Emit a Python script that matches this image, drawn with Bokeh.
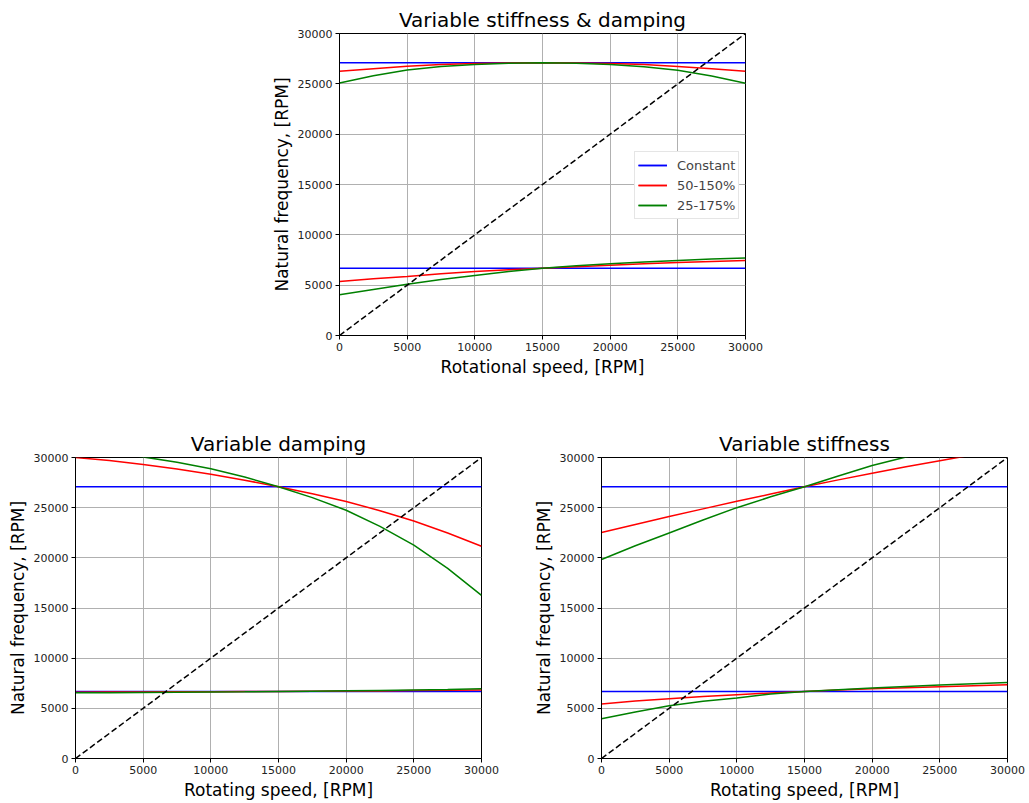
from bokeh.plotting import figure
from bokeh.models import Range1d, FixedTicker, Spacer
from bokeh.layouts import column, row
from bokeh.embed import file_html
from bokeh.resources import INLINE

# ---------------- data ----------------
speed = [0, 2500, 5000, 7500, 10000, 12500, 15000, 17500, 20000, 22500, 25000, 27500, 30000]
ticks = [0, 5000, 10000, 15000, 20000, 25000, 30000]
diag = [0, 30000]

const_upper = [27085] * 13
const_lower = [6685] * 13

# Variable stiffness & damping
sd_red_upper = [26250, 26500, 26750, 26920, 27020, 27070, 27085, 27070, 27020, 26920, 26720, 26500, 26260]
sd_green_upper = [25080, 25800, 26380, 26720, 26920, 27040, 27085, 27040, 26920, 26700, 26350, 25780, 25060]
sd_red_lower = [5360, 5630, 5860, 6130, 6360, 6530, 6685, 6840, 6985, 7120, 7250, 7360, 7450]
sd_green_lower = [4040, 4560, 5080, 5560, 5960, 6360, 6685, 6920, 7120, 7300, 7450, 7590, 7710]

# Variable damping
d_red_upper = [30000, 29700, 29300, 28850, 28320, 27740, 27085, 26380, 25620, 24700, 23670, 22480, 21150]
d_green_upper = [30850, 30500, 30060, 29520, 28870, 28050, 27085, 26000, 24740, 23130, 21260, 18950, 16250]
d_red_lower = [6610, 6620, 6630, 6645, 6655, 6668, 6685, 6700, 6720, 6740, 6770, 6800, 6830]
d_green_lower = [6550, 6565, 6585, 6605, 6630, 6655, 6685, 6710, 6745, 6785, 6830, 6885, 6950]

# Variable stiffness
s_red_upper = [22520, 23330, 24110, 24880, 25630, 26360, 27085, 27770, 28440, 29080, 29680, 30280, 30850]
s_green_upper = [19840, 21200, 22480, 23770, 25000, 26080, 27085, 28160, 29200, 30050, 30900, 31700, 32450]
s_red_lower = [5430, 5720, 5960, 6170, 6360, 6530, 6685, 6820, 6950, 7060, 7160, 7260, 7350]
s_green_lower = [3970, 4640, 5260, 5700, 6040, 6420, 6685, 6860, 7020, 7180, 7320, 7450, 7580]

labels = ["Constant", "50-150%", "25-175%"]
FONT = "DejaVu Sans"


def make_fig(title, xlabel, w, h, bl, br, bt, bb):
    p = figure(width=w, height=h, output_backend="svg", toolbar_location=None,
               x_range=Range1d(0, 30000), y_range=Range1d(0, 30000),
               min_border_left=bl, min_border_right=br,
               min_border_top=bt, min_border_bottom=bb)
    p.title.text = title
    p.title.align = "center"
    p.title.text_font = FONT
    p.title.text_font_size = "20px"
    p.title.text_font_style = "normal"
    p.title.text_color = "black"
    p.title.standoff = 4
    for ax in (p.xaxis[0], p.yaxis[0]):
        ax.ticker = FixedTicker(ticks=ticks)
        ax.major_label_text_font = FONT
        ax.major_label_text_font_size = "11px"
        ax.major_label_text_color = "#222222"
        ax.axis_label_text_font = FONT
        ax.axis_label_text_font_size = "17px"
        ax.axis_label_text_font_style = "normal"
        ax.axis_label_text_color = "black"
        ax.axis_line_color = "black"
        ax.major_tick_line_color = "black"
        ax.major_tick_out = 4
        ax.major_tick_in = 0
        ax.minor_tick_line_color = None
        ax.major_label_standoff = 3
        ax.axis_label_standoff = 3
    p.xaxis.axis_label = xlabel
    p.yaxis.axis_label = "Natural frequency, [RPM]"
    p.grid.grid_line_color = "#b0b0b0"
    p.grid.grid_line_width = 1
    p.outline_line_color = "black"
    p.outline_line_width = 1
    p.outline_line_alpha = 1
    p.background_fill_color = "white"
    p.border_fill_color = "white"
    return p


def draw(p, red_u, green_u, red_l, green_l, with_legend):
    kw = lambda i: {"legend_label": labels[i]} if with_legend else {}
    p.line(speed, const_upper, line_color="blue", line_width=1.5, **kw(0))
    p.line(speed, const_lower, line_color="blue", line_width=1.5, **kw(0))
    p.line(speed, red_u, line_color="red", line_width=1.5, **kw(1))
    p.line(speed, red_l, line_color="red", line_width=1.5, **kw(1))
    p.line(speed, green_u, line_color="green", line_width=1.5, **kw(2))
    p.line(speed, green_l, line_color="green", line_width=1.5, **kw(2))
    p.line(diag, diag, line_color="black", line_width=1.5, line_dash="6 3")


# top
p1 = make_fig("Variable stiffness & damping", "Rotational speed, [RPM]",
              75 + 406 + 30, 33 + 302 + 44, 75, 30, 33, 44)
draw(p1, sd_red_upper, sd_green_upper, sd_red_lower, sd_green_lower, True)
lg = p1.legend[0]
lg.location = (295, 116)
lg.label_text_font = FONT
lg.label_text_font_size = "13px"
lg.glyph_width = 29
lg.glyph_height = 20
lg.label_height = 20
lg.spacing = 0
lg.padding = 3
lg.margin = 0
lg.label_standoff = 10
lg.border_line_color = "#cccccc"
lg.border_line_width = 1
lg.background_fill_color = "white"
lg.background_fill_alpha = 1

# bottom left
p2 = make_fig("Variable damping", "Rotating speed, [RPM]",
              75 + 406 + 20, 30 + 302 + 43, 75, 20, 30, 43)
draw(p2, d_red_upper, d_green_upper, d_red_lower, d_green_lower, False)

# bottom right
p3 = make_fig("Variable stiffness", "Rotating speed, [RPM]",
              100 + 406 + 20, 30 + 302 + 43, 100, 20, 30, 43)
draw(p3, s_red_upper, s_green_upper, s_red_lower, s_green_lower, False)

layout = column(row(Spacer(width=264, height=379), p1),
                Spacer(width=10, height=48),
                row(p2, p3))

open("out.html", "w").write(file_html(layout, INLINE))
